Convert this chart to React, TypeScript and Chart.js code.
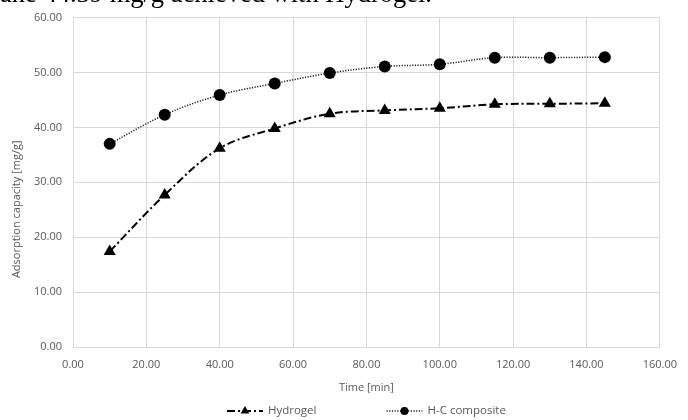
import React, { useEffect, useRef } from "react";
import { Chart, registerables } from "chart.js";

Chart.register(...registerables);

// ---- data ----
const timeMin = [10, 25, 40, 55, 70, 85, 100, 115, 130, 145];
const hydrogel = [17.4, 27.7, 36.2, 39.8, 42.5, 43.1, 43.5, 44.2, 44.3, 44.39];
const composite = [37.0, 42.3, 45.9, 48.0, 49.9, 51.1, 51.5, 52.7, 52.7, 52.8];
const seriesNames = ["Hydrogel", "H-C composite"];
const xTitle = "Time [min]";
const yTitle = "Adsorption capacity [mg/g]";
const captionText = "ane 44.39 mg/g achieved with Hydrogel.";
const xRange = [0, 160];
const xStep = 20;
const yRange = [0, 60];
const yStep = 10;

const FONT = "'Open Sans', 'Liberation Sans', sans-serif";
const TEXT_COLOR = "#595959";
const GRID = "#d9d9d9";

function drawMarker(ctx: CanvasRenderingContext2D, style: string, x: number, y: number, r: number) {
  ctx.beginPath();
  if (style === "triangle") {
    for (let i = 0; i < 3; i++) {
      const a = (i * 2 * Math.PI) / 3;
      const px = x + Math.sin(a) * r;
      const py = y - Math.cos(a) * r;
      if (i === 0) ctx.moveTo(px, py);
      else ctx.lineTo(px, py);
    }
    ctx.closePath();
  } else {
    ctx.arc(x, y, r, 0, Math.PI * 2);
  }
  ctx.fill();
}

const yTitlePlugin = {
  id: "yTitleShifted",
  afterDraw(chart: any) {
    const { ctx, chartArea } = chart;
    ctx.save();
    ctx.translate(17, (chartArea.top + chartArea.bottom) / 2 + 27);
    ctx.rotate(-Math.PI / 2);
    ctx.font = `11px ${FONT}`;
    ctx.fillStyle = TEXT_COLOR;
    ctx.textAlign = "center";
    ctx.textBaseline = "middle";
    ctx.fillText(yTitle, 0, 0);
    ctx.restore();
  },
};

const legendPlugin = {
  id: "lineLegend",
  afterDraw(chart: any) {
    const { ctx, chartArea } = chart;
    const datasets = chart.data.datasets;
    const sampleW = 36;
    const textGap = 5;
    const itemGap = 70;
    ctx.save();
    ctx.font = `11.5px ${FONT}`;
    const widths = datasets.map((d: any) => sampleW + textGap + ctx.measureText(d.label).width);
    const total = widths.reduce((a: number, b: number) => a + b, 0) + itemGap * (datasets.length - 1);
    let x = (chartArea.left + chartArea.right) / 2 - total / 2;
    const y = 411;
    datasets.forEach((d: any, i: number) => {
      ctx.strokeStyle = d.borderColor;
      ctx.lineWidth = d.borderWidth;
      ctx.setLineDash(d.borderDash || []);
      ctx.beginPath();
      ctx.moveTo(x, y);
      ctx.lineTo(x + sampleW, y);
      ctx.stroke();
      ctx.setLineDash([]);
      ctx.fillStyle = d.pointBackgroundColor;
      drawMarker(ctx, d.pointStyle, x + sampleW / 2, y, d.pointStyle === "triangle" ? 5 : 4);
      ctx.fillStyle = TEXT_COLOR;
      ctx.textAlign = "left";
      ctx.textBaseline = "middle";
      ctx.fillText(d.label, x + sampleW + textGap, y);
      x += widths[i] + itemGap;
    });
    ctx.restore();
  },
};

export default function App() {
  const ref = useRef<HTMLCanvasElement | null>(null);

  useEffect(() => {
    if (!ref.current) return;
    const chart = new Chart(ref.current, {
      type: "line",
      data: {
        datasets: [
          {
            label: seriesNames[0],
            data: timeMin.map((t, i) => ({ x: t, y: hydrogel[i] })),
            borderColor: "#000000",
            borderWidth: 2,
            borderDash: [8, 3, 2, 3],
            pointStyle: "triangle",
            pointRadius: 7,
            pointBackgroundColor: "#000000",
            pointBorderColor: "#000000",
            pointBorderWidth: 0,
            tension: 0.35,
            fill: false,
          },
          {
            label: seriesNames[1],
            data: timeMin.map((t, i) => ({ x: t, y: composite[i] })),
            borderColor: "#1a1a1a",
            borderWidth: 1.5,
            borderDash: [1.2, 1.5],
            pointStyle: "circle",
            pointRadius: 6,
            pointBackgroundColor: "#000000",
            pointBorderColor: "#000000",
            pointBorderWidth: 0,
            tension: 0.35,
            fill: false,
          },
        ],
      },
      options: {
        responsive: false,
        animation: false,
        layout: { padding: { left: 0, top: 17, right: 21, bottom: 23 } },
        plugins: {
          legend: { display: false },
          tooltip: { enabled: false },
        },
        scales: {
          x: {
            type: "linear",
            min: xRange[0],
            max: xRange[1],
            ticks: {
              stepSize: xStep,
              padding: 11,
              maxRotation: 0,
              color: TEXT_COLOR,
              font: { family: FONT, size: 11 },
              callback: (v: any) => Number(v).toFixed(2),
            },
            grid: { color: GRID, lineWidth: 1, drawTicks: false },
            border: { color: GRID, width: 1 },
            title: {
              display: true,
              text: xTitle,
              color: TEXT_COLOR,
              font: { family: FONT, size: 11 },
              padding: { top: 0, bottom: 3 },
            },
            afterFit: (scale: any) => {
              scale.height = 50;
            },
          },
          y: {
            min: yRange[0],
            max: yRange[1],
            ticks: {
              stepSize: yStep,
              padding: 11,
              color: TEXT_COLOR,
              font: { family: FONT, size: 11 },
              callback: (v: any) => Number(v).toFixed(2),
            },
            grid: { color: GRID, lineWidth: 1, drawTicks: false },
            border: { color: GRID, width: 1 },
            afterFit: (scale: any) => {
              scale.width = 73;
            },
          },
        },
      },
      plugins: [yTitlePlugin, legendPlugin],
    } as any);
    return () => chart.destroy();
  }, []);

  return (
    <div
      style={{
        position: "fixed",
        left: 0,
        top: 0,
        width: 688,
        height: 420,
        overflow: "hidden",
        background: "#ffffff",
      }}
    >
      <canvas ref={ref} width={688} height={420} style={{ position: "absolute", left: 0, top: 0, width: 688, height: 420 }} />
      <div
        style={{
          position: "absolute",
          left: 0,
          top: -20,
          fontFamily: "'Liberation Serif', 'Times New Roman', serif",
          fontSize: 26.5,
          lineHeight: "26px",
          color: "#000000",
          whiteSpace: "nowrap",
        }}
      >
        {captionText}
      </div>
    </div>
  );
}
